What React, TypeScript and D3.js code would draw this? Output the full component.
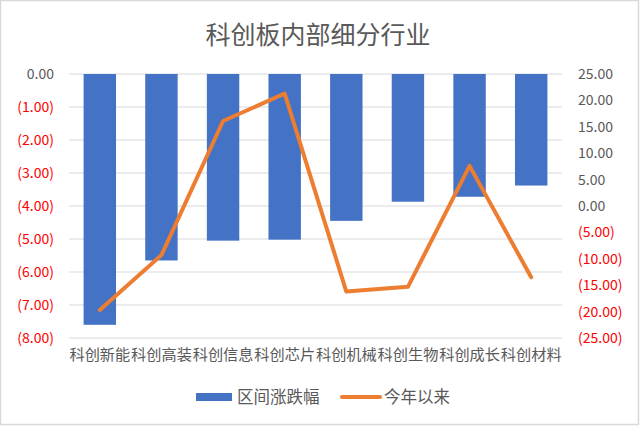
import React from "react";
import * as d3 from "d3";

const categories = ["科创新能", "科创高装", "科创信息", "科创芯片", "科创机械", "科创生物", "科创成长", "科创材料"];
const rangeChange = [-7.6, -5.65, -5.05, -5.02, -4.45, -3.87, -3.72, -3.38];
const ytdChange = [-19.7, -9.3, 16.1, 21.3, -16.2, -15.3, 7.6, -13.5];
const leftTicks = [0, -1, -2, -3, -4, -5, -6, -7, -8];
const rightTicks = [25, 20, 15, 10, 5, 0, -5, -10, -15, -20, -25];

const W = 640, H = 426;
const plot = { left: 69, right: 562, top: 74, bottom: 338 };
const FONT = "'Noto Sans CJK SC', 'Noto Sans', sans-serif";
const GRAY = "#595959";
const RED = "#FF0000";

const fmt = (v: number) => (v < 0 ? `(${Math.abs(v).toFixed(2)})` : v.toFixed(2));

export default function App() {
  const x = d3.scaleBand<string>().domain(categories).range([plot.left, plot.right]).paddingInner(0.474).paddingOuter(0.237);
  const yL = d3.scaleLinear().domain([-8, 0]).range([plot.bottom, plot.top]);
  const yR = d3.scaleLinear().domain([-25, 25]).range([plot.bottom, plot.top]);
  const line = d3
    .line<number>()
    .x((_, i) => (x(categories[i]) as number) + x.bandwidth() / 2)
    .y((d) => yR(d));

  return (
    <svg width={W} height={H} style={{ position: "absolute", left: 0, top: 0 }} fontFamily={FONT}>
      <rect x={0.5} y={0.5} width={W - 2} height={H - 2} fill="#fff" stroke="#d9d9d9" strokeWidth={1.5} />
      <text x={318} y={44} textAnchor="middle" fontSize={25} fill={GRAY}>科创板内部细分行业</text>
      {leftTicks.map((t) => (
        <line key={t} x1={plot.left} x2={plot.right} y1={yL(t)} y2={yL(t)} stroke="#d9d9d9" strokeWidth={1} />
      ))}
      {categories.map((c, i) => (
        <rect
          key={c}
          x={x(c)}
          y={yL(0)}
          width={x.bandwidth()}
          height={yL(rangeChange[i]) - yL(0)}
          fill="#4472C4"
        />
      ))}
      <path d={line(ytdChange) || ""} fill="none" stroke="#ED7D31" strokeWidth={4} strokeLinejoin="round" strokeLinecap="round" />
      {leftTicks.map((t) => (
        <text key={t} x={54} y={yL(t)} dy="0.35em" textAnchor="end" fontSize={14} fill={t < 0 ? RED : GRAY}>
          {fmt(t)}
        </text>
      ))}
      {rightTicks.map((t) => (
        <text key={t} x={578} y={yR(t)} dy="0.35em" textAnchor="start" fontSize={14} fill={t < 0 ? RED : GRAY}>
          {fmt(t)}
        </text>
      ))}
      {categories.map((c) => (
        <text key={c} x={(x(c) as number) + x.bandwidth() / 2} y={355} dy="0.35em" textAnchor="middle" fontSize={15.2} fill={GRAY}>
          {c}
        </text>
      ))}
      <rect x={196} y={393} width={36} height={8} fill="#4472C4" />
      <text x={237} y={397} dy="0.35em" fontSize={16.5} fill={GRAY}>区间涨跌幅</text>
      <line x1={342} x2={380} y1={397} y2={397} stroke="#ED7D31" strokeWidth={4} strokeLinecap="round" />
      <text x={384} y={397} dy="0.35em" fontSize={16.5} fill={GRAY}>今年以来</text>
    </svg>
  );
}
